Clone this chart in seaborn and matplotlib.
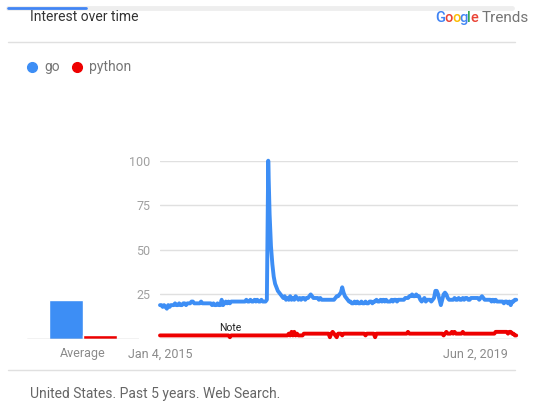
import matplotlib.pyplot as plt
import seaborn as sns
import pandas as pd
from matplotlib.lines import Line2D

sns.set_theme(style='white')
plt.rcParams['font.family'] = ['Roboto', 'DejaVu Sans']

# weekly interest, Jan 4 2015 .. Dec 29 2019
go_values = [
    19, 19, 18, 19, 18, 17, 19, 18, 19, 19,
    19, 20, 19, 19, 20, 19, 19, 20, 20, 19,
    20, 20, 20, 21, 21, 20, 20, 20, 20, 20,
    21, 20, 20, 20, 20, 20, 20, 20, 19, 20,
    19, 19, 20, 19, 19, 22, 19, 20, 21, 20,
    21, 20, 21, 21, 21, 21, 21, 21, 21, 21,
    21, 21, 21, 22, 21, 21, 22, 21, 21, 22,
    21, 22, 21, 21, 22, 21, 21, 21, 22, 100,
    70, 52, 42, 35, 31, 29, 27, 26, 25, 24,
    23, 24, 22, 23, 22, 24, 22, 23, 22, 24,
    23, 22, 23, 22, 23, 23, 22, 23, 23, 24,
    25, 24, 23, 23, 23, 23, 22, 23, 22, 22,
    22, 22, 22, 22, 22, 22, 22, 22, 23, 24,
    24, 25, 26, 29, 26, 24, 23, 22, 21, 21,
    20, 20, 21, 20, 21, 20, 20, 21, 20, 20,
    21, 20, 20, 21, 21, 20, 21, 21, 22, 21,
    21, 22, 21, 22, 21, 22, 21, 21, 21, 22,
    21, 22, 22, 21, 22, 22, 22, 22, 22, 23,
    23, 23, 24, 24, 25, 24, 24, 25, 24, 24,
    22, 21, 22, 23, 21, 22, 22, 22, 21, 22,
    23, 27, 27, 25, 22, 19, 22, 25, 26, 25,
    23, 22, 22, 22, 22, 23, 22, 22, 23, 22,
    22, 23, 22, 23, 23, 22, 22, 23, 23, 23,
    23, 23, 23, 22, 23, 24, 23, 22, 22, 22,
    22, 22, 21, 22, 21, 22, 21, 21, 21, 21,
    21, 20, 21, 21, 20, 21, 19, 21, 21, 22,
    22,
]
python_values = [
    2, 2, 2, 2, 2, 2, 2, 2, 2, 2,
    2, 2, 2, 2, 2, 2, 2, 2, 2, 2,
    2, 2, 2, 2, 2, 2, 2, 2, 2, 2,
    2, 2, 2, 2, 2, 2, 2, 2, 2, 2,
    2, 2, 2, 2, 2, 2, 2, 2, 2, 2,
    2, 1, 2, 2, 2, 2, 2, 2, 2, 2,
    2, 2, 2, 2, 2, 2, 2, 2, 2, 2,
    2, 2, 2, 2, 2, 2, 2, 2, 2, 2,
    2, 2, 2, 2, 2, 2, 2, 2, 2, 2,
    2, 2, 2, 2, 3, 2, 4, 2, 4, 2,
    3, 2, 2, 2, 2, 3, 3, 3, 3, 3,
    3, 3, 3, 3, 3, 3, 3, 3, 3, 3,
    3, 3, 3, 3, 1, 3, 4, 3, 2, 1,
    3, 3, 3, 2, 3, 3, 3, 3, 3, 3,
    3, 3, 3, 3, 3, 3, 3, 3, 3, 3,
    2, 3, 3, 3, 3, 3, 3, 1, 3, 3,
    3, 3, 3, 3, 3, 3, 3, 3, 3, 3,
    3, 3, 3, 3, 3, 3, 3, 3, 3, 3,
    3, 4, 3, 3, 3, 3, 3, 3, 3, 3,
    3, 3, 3, 3, 3, 3, 3, 3, 3, 3,
    3, 3, 3, 3, 3, 3, 3, 2, 3, 4,
    3, 3, 3, 4, 3, 4, 3, 3, 3, 3,
    3, 4, 3, 3, 3, 3, 3, 3, 3, 3,
    3, 3, 3, 3, 3, 3, 3, 3, 3, 3,
    3, 3, 3, 3, 3, 4, 4, 4, 4, 4,
    4, 4, 4, 4, 3, 4, 4, 3, 3, 2,
    2,
]
terms = ['go', 'python']
averages = [22, 2]
colors = ['#3d8ef5', '#ee0000']
x_tick_dates = ['2015-01-04', '2019-06-02']
x_tick_labels = ['Jan 4, 2015', 'Jun 2, 2019']
y_ticks = [25, 50, 75, 100]

weeks = pd.date_range('2015-01-04', periods=len(go_values), freq='W-SUN')
df = pd.DataFrame({'week': weeks, 'go': go_values, 'python': python_values})

W, H = 560, 407
fig = plt.figure(figsize=(W / 100, H / 100), dpi=100)


def px(x0, y0, x1, y1):
    # pixel box -> figure fraction rect
    return [x0 / W, 1 - y1 / H, (x1 - x0) / W, (y1 - y0) / H]


# average bars (drawn first, no background so it hides nothing)
ax2 = fig.add_axes(px(27, 160.7, 139, 339))
ax2.patch.set_visible(False)
sns.barplot(x=terms, y=averages, hue=terms, palette=colors, width=1,
            saturation=1, legend=False, ax=ax2)
ax2.set_xlim(-1.147, 2.147)
ax2.set_ylim(0, 100)
ax2.axhline(0, color='#bdbdbd', lw=1)
ax2.set_xticks([0.5])
ax2.set_xticklabels(['Average'], color='#8a8a8a', fontsize=9)
ax2.set_yticks([])
ax2.tick_params(length=0, pad=6)
ax2.set_xlabel('')
ax2.set_ylabel('')
sns.despine(ax=ax2, left=True, bottom=True)

# main time series
ax = fig.add_axes(px(160, 160.7, 518, 339))
ax.patch.set_visible(False)
sns.lineplot(data=df, x='week', y='python', color=colors[1], linewidth=2.8, ax=ax)
sns.lineplot(data=df, x='week', y='go', color=colors[0], linewidth=2.8, ax=ax)
for ln in ax.lines:
    ln.set_clip_on(False)
    ln.set_solid_joinstyle('round')
ax.set_xlim(weeks[0], weeks[0] + pd.Timedelta(weeks=261.3))
ax.set_ylim(0, 100)
for v in y_ticks:
    ax.axhline(v, color='#e0e0e0', lw=1, zorder=0)
ax.axhline(0, color='#bdbdbd', lw=1, zorder=0)
ax.set_yticks(y_ticks)
ax.set_yticklabels([str(v) for v in y_ticks], color='#a0a0a0', fontsize=9)
ax.set_xticks(pd.to_datetime(x_tick_dates))
ax.set_xticklabels(x_tick_labels, color='#8a8a8a', fontsize=9)
ax.tick_params(length=0, pad=6)
ax.tick_params(axis='y', pad=7)
ax.set_xlabel('')
ax.set_ylabel('')
sns.despine(ax=ax, left=True, bottom=True)
ax.text(weeks[51], 3.6, 'Note', ha='center', va='bottom', fontsize=7.5, color='#222222')

# header / footer
fig.add_artist(Line2D([8 / W, 512 / W], [1 - 7.5 / H] * 2, color='#eeeeee', lw=3.5))
fig.add_artist(Line2D([8 / W, 86 / W], [1 - 8 / H] * 2, color='#4285f4', lw=2))
fig.text(30 / W, 1 - 17 / H, 'Interest over time', fontsize=10, color='#333333', va='center')
google = [('G', '#4285f4'), ('o', '#ea4335'), ('o', '#fbbc05'),
          ('g', '#4285f4'), ('l', '#34a853'), ('e', '#ea4335')]
gx = 435
widths = [9.5, 7.5, 7.5, 7.5, 3.5, 7]
for (ch, c), w in zip(google, widths):
    fig.text(gx / W, 1 - 18 / H, ch, fontsize=10.5, color=c, va='center', fontweight='medium')
    gx += w
fig.text(482 / W, 1 - 18 / H, 'Trends', fontsize=11, color='#757575', va='center')
fig.add_artist(Line2D([8 / W, 515 / W], [1 - 42 / H] * 2, color='#e0e0e0', lw=1))

fig.add_artist(Line2D([32 / W], [1 - 67 / H], marker='o', markersize=7, color=colors[0], lw=0))
fig.text(44 / W, 1 - 67 / H, 'go', fontsize=10, color='#757575', va='center')
fig.add_artist(Line2D([77 / W], [1 - 67 / H], marker='o', markersize=7, color=colors[1], lw=0))
fig.text(89 / W, 1 - 67 / H, 'python', fontsize=10, color='#757575', va='center')

fig.add_artist(Line2D([8 / W, 515 / W], [1 - 370 / H] * 2, color='#e0e0e0', lw=1))
fig.text(30 / W, 1 - 394 / H, 'United States. Past 5 years. Web Search.', fontsize=10,
         color='#666666', va='center')

fig.savefig('out.png', dpi=100)
